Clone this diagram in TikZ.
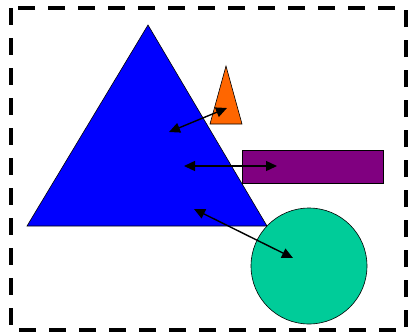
\documentclass[tikz,border=0pt]{standalone}
\usetikzlibrary{arrows.meta}
\definecolor{ShapeBlue}{RGB}{0,0,255}
\definecolor{ShapeOrange}{RGB}{255,102,0}
\definecolor{ShapePurple}{RGB}{128,0,128}
\definecolor{ShapeTeal}{RGB}{0,204,153}
\tikzset{
  solid shape/.style={draw=black,line width=0.6pt},
  frame/.style={draw=black,line width=4pt,dash pattern=on 17pt off 13pt},
  link/.style={{Triangle[length=11pt,width=10pt]}-{Triangle[length=11pt,width=10pt]},line width=1.4pt,black},
}
\begin{document}
\begin{tikzpicture}[x=1pt,y=-1pt]
    \useasboundingbox (0,0) rectangle (409,335);
    \draw[frame] (11,8) rectangle (406,330);

    % shapes
    \filldraw[solid shape,fill=ShapeBlue] (148,25) -- (267,226) -- (27,226) -- cycle;
    \filldraw[solid shape,fill=ShapeOrange] (226,66) -- (242,124) -- (210,124) -- cycle;
    \filldraw[solid shape,fill=ShapePurple] (242,150) rectangle (383,183);
    \filldraw[solid shape,fill=ShapeTeal] (309,266) circle (58);

    % arrow ends
    \coordinate (triA) at (169,132);
    \coordinate (orng) at (227,108);
    \coordinate (triB) at (184,166);
    \coordinate (purp) at (277,166);
    \coordinate (triC) at (194,209);
    \coordinate (teal) at (293,258);

    \draw[link] (triA) -- (orng);
    \draw[link] (triB) -- (purp);
    \draw[link] (triC) -- (teal);
\end{tikzpicture}
\end{document}
